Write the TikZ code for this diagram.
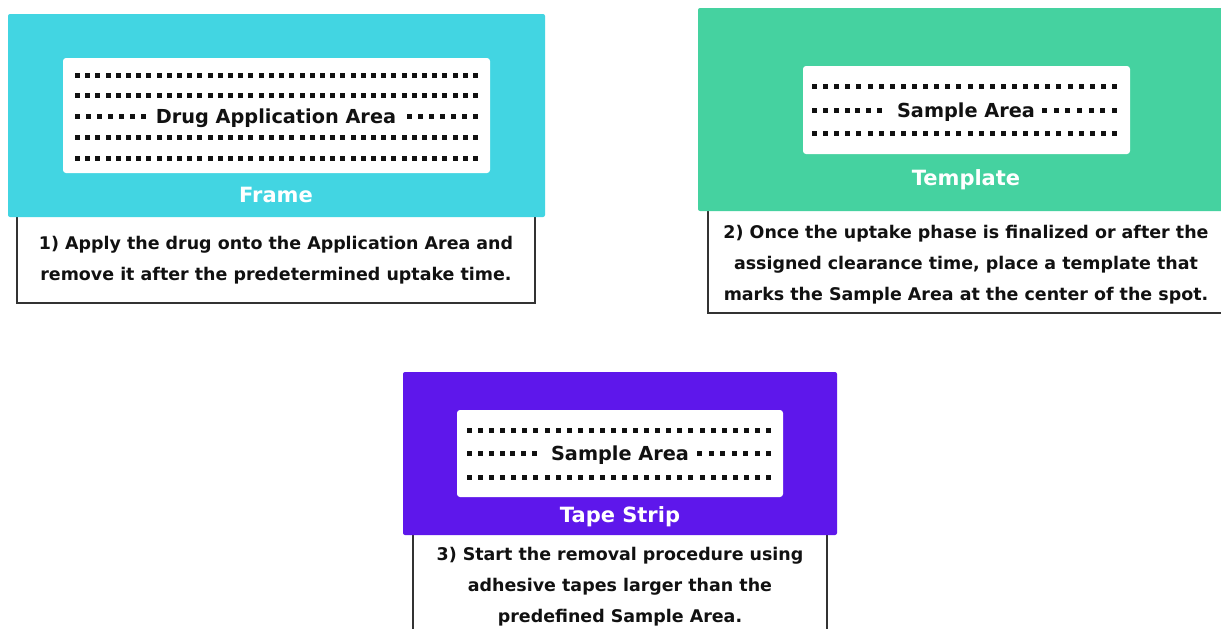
\documentclass[tikz,border=0pt]{standalone}
\usepackage{fontspec}
\setmainfont{DejaVu Sans}
\definecolor{framecol}{HTML}{42D5E2}
\definecolor{templcol}{HTML}{45D2A0}
\definecolor{tapecol}{HTML}{5E17EB}
\definecolor{boxline}{HTML}{333333}
\definecolor{ink}{HTML}{111111}
\newcommand\dotrow[4]{\foreach \i in {0,...,#4}{\fill[ink] ({#1+(#2-#1-5)*\i/#4},{#3-2.5}) rectangle ++(5,5);}}
\begin{document}
\begin{tikzpicture}[x=1pt,y=-1pt,
  panel/.style={rectangle, rounded corners=2pt, inner sep=0pt},
  whitebox/.style={rectangle, fill=white, rounded corners=3pt, inner sep=0pt},
  desc/.style={rectangle, draw=boxline, line width=1.2pt, fill=white, inner sep=0pt},
  bodytext/.style={font=\fontsize{17.45}{31}\selectfont\bfseries, align=center, text=ink},
  paneltitle/.style={font=\fontsize{21}{26}\selectfont\bfseries, text=white, inner sep=0pt},
  areatext/.style={font=\fontsize{19.3}{22}\selectfont\bfseries, text=ink, inner sep=0pt}]
\useasboundingbox (0,0) rectangle (1221,629);
\clip (0,0) rectangle (1221,629);
\fill[white] (0,0) rectangle (1221,629);

% ---- Step 1: Frame
\node[desc, minimum width=518pt, minimum height=93pt] (box1) at (276,256.5) {};
\node[bodytext] (t1) at (276,260.5) {1) Apply the drug onto the Application Area and\\remove it after the predetermined uptake time.};
\node[panel, fill=framecol, minimum width=537pt, minimum height=203pt] (frame) at (276.5,115.5) {};
\node[whitebox, minimum width=427pt, minimum height=115pt] (frameinner) at (276.5,115.5) {};
\node[paneltitle] (framelabel) at (276,195) {Frame};
\node[areatext] (drugarea) at (276,118) {Drug Application Area};
\dotrow{75}{478}{75}{39}
\dotrow{75}{478}{95}{39}
\dotrow{75}{146}{116}{6}
\dotrow{407}{478}{116}{6}
\dotrow{75}{478}{137}{39}
\dotrow{75}{478}{158}{39}

% ---- Step 2: Template
\node[desc, minimum width=532pt, minimum height=108pt] (box2) at (974,259) {};
\node[bodytext] (t2) at (966,265) {2) Once the uptake phase is finalized or after the\\assigned clearance time, place a template that\\marks the Sample Area at the center of the spot.};
\node[panel, fill=templcol, minimum width=542pt, minimum height=203pt] (template) at (969,109.5) {};
\node[whitebox, minimum width=327pt, minimum height=88pt] (templinner) at (966.5,110) {};
\node[paneltitle] (templlabel) at (966,180) {Template};
\node[areatext] (samplearea1) at (966,112) {Sample Area};
\dotrow{812}{1117}{86}{27}
\dotrow{812}{882}{110}{6}
\dotrow{1042}{1117}{110}{6}
\dotrow{812}{1117}{133}{27}

% ---- Step 3: Tape strip
\node[desc, minimum width=414pt, minimum height=110pt] (box3) at (620,585) {};
\node[bodytext] (t3) at (620,587) {3) Start the removal procedure using\\adhesive tapes larger than the\\predefined Sample Area.};
\node[panel, fill=tapecol, minimum width=434pt, minimum height=163pt] (tape) at (620,453.5) {};
\node[whitebox, minimum width=326pt, minimum height=87pt] (tapeinner) at (620,453.5) {};
\node[paneltitle] (tapelabel) at (620,517) {Tape Strip};
\node[areatext] (samplearea2) at (620,455) {Sample Area};
\dotrow{467}{771}{430}{27}
\dotrow{467}{537}{453}{6}
\dotrow{697}{771}{453}{6}
\dotrow{467}{771}{477}{27}
\end{tikzpicture}
\end{document}
